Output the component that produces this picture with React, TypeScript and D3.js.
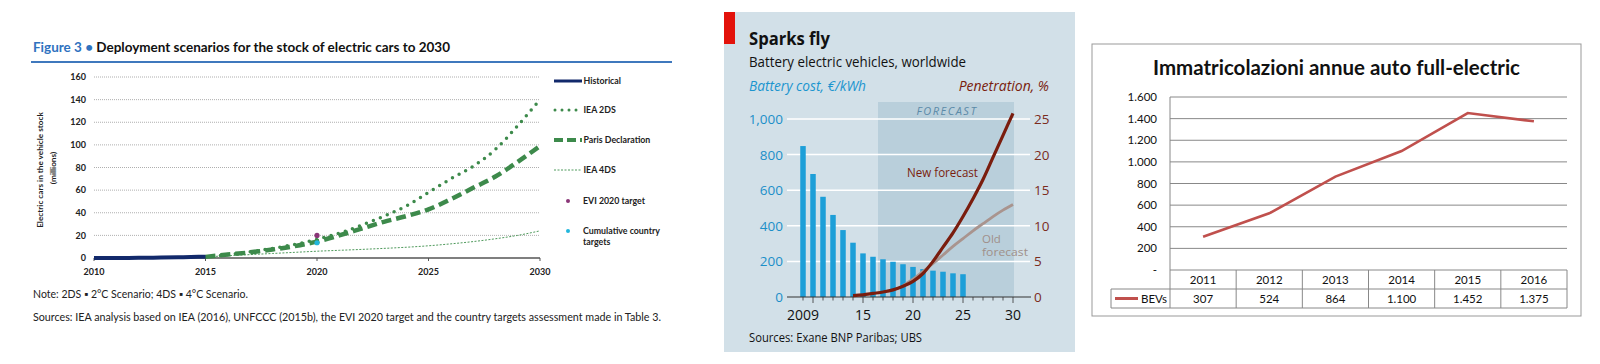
import React from 'react';
import * as d3 from 'd3';

// ---------- Figure 3 (IEA) ----------
const ieaXTicks = [2010, 2015, 2020, 2025, 2030];
const ieaYTicks = [0, 20, 40, 60, 80, 100, 120, 140, 160];
const historicalYears = [2010, 2011, 2012, 2013, 2014, 2015];
const historicalStock = [0.02, 0.05, 0.15, 0.35, 0.7, 1.2];
const scenarioYears = [2015, 2016, 2017, 2018, 2019, 2020, 2021, 2022, 2023, 2024, 2025, 2026, 2027, 2028, 2029, 2030];
const iea2ds = [1, 3, 5.5, 8.5, 12, 16.5, 22, 29, 37, 46, 58, 70, 81, 96, 117, 140];
const parisDeclaration = [1, 3, 5, 7.5, 10.5, 14.5, 20, 26, 32, 37, 43, 52, 62, 72, 85, 99];
const iea4ds = [1, 2, 3, 4, 5, 6, 6.8, 7.6, 8.5, 9.5, 10.8, 12.5, 14.5, 17, 20, 24];
const targetYear = 2020;
const evi2020Target = 20;
const countryTargets = 13.5;
const ieaLegend = ['Historical', 'IEA 2DS', 'Paris Declaration', 'IEA 4DS', 'EVI 2020 target', 'Cumulative country'];

// ---------- Sparks fly (Economist) ----------
const costYears = [2009, 2010, 2011, 2012, 2013, 2014, 2015, 2016, 2017, 2018, 2019, 2020, 2021, 2022, 2023, 2024, 2025];
const batteryCost = [848, 691, 563, 461, 376, 305, 245, 226, 212, 198, 184, 169, 157, 148, 142, 133, 128];
const newForecastYears = [2014, 2015, 2016, 2017, 2018, 2019, 2020, 2021, 2022, 2023, 2024, 2025, 2026, 2027, 2028, 2029, 2030];
const newForecast = [0.2, 0.3, 0.5, 0.7, 1.0, 1.5, 2.2, 3.3, 5.0, 7.0, 9.0, 11.3, 13.8, 16.5, 19.6, 22.7, 25.8];
const oldForecastYears = [2019, 2020, 2021, 2022, 2023, 2024, 2025, 2026, 2027, 2028, 2029, 2030];
const oldForecast = [1.6, 2.5, 3.6, 4.7, 5.9, 7.1, 8.2, 9.3, 10.3, 11.3, 12.2, 13.0];
const costTicks = [0, 200, 400, 600, 800, 1000];
const penTicks = [0, 5, 10, 15, 20, 25];
const yearTicks = [2009, 2015, 2020, 2025, 2030];
const yearTickLabels = ['2009', '15', '20', '25', '30'];
const forecastSpan = [2016.5, 2030.1];

// ---------- Immatricolazioni (Excel) ----------
const bevYears = ['2011', '2012', '2013', '2014', '2015', '2016'];
const bevValues = [307, 524, 864, 1100, 1452, 1375];
const bevTicks = [0, 200, 400, 600, 800, 1000, 1200, 1400, 1600];

const itFmt = (v: number) => (v === 0 ? '-' : d3.format(',')(v).replace(/,/g, '.'));

function IeaChart() {
  const x = d3.scaleLinear().domain([2010, 2030]).range([94, 540]);
  const y = d3.scaleLinear().domain([0, 160]).range([258, 77]);
  const line = d3.line<[number, number]>().x(d => x(d[0])).y(d => y(d[1])).curve(d3.curveMonotoneX);
  const green = '#3d8a4b';
  const navy = '#12296b';
  const font = 'Lato, sans-serif';
  const legendY = [81, 110, 140, 170, 201, 231];
  return (
    <g fontFamily={font}>
      <text x={33} y={51.7} fontSize={12.5} fontWeight="bold" textLength={417} lengthAdjust="spacingAndGlyphs">
        <tspan fill="#2f72bf">Figure 3 • </tspan>
        <tspan fill="#111">Deployment scenarios for the stock of electric cars to 2030</tspan>
      </text>
      <line x1={31} x2={672} y1={62} y2={62} stroke="#3f78bd" strokeWidth={2} />
      {ieaYTicks.map(t => (
        <g key={t}>
          {t > 0 && <line x1={94} x2={540} y1={y(t)} y2={y(t)} stroke="#9a9a9a" strokeWidth={0.8} strokeDasharray="1 1" />}
          <text x={86} y={y(t) + 3.2} textAnchor="end" fontSize={9} fontWeight="bold" fill="#222">{t}</text>
        </g>
      ))}
      <line x1={94} x2={540} y1={y(0)} y2={y(0)} stroke="#555" strokeWidth={1.3} />
      {ieaXTicks.map(t => (
        <g key={t}>
          <line x1={x(t)} x2={x(t)} y1={y(0)} y2={y(0) + 3} stroke="#555" />
          <text x={x(t)} y={275} textAnchor="middle" fontSize={9} fontWeight="bold" fill="#222">{t}</text>
        </g>
      ))}
      <text transform="translate(43,170) rotate(-90)" textAnchor="middle" fontSize={8.2} fontWeight="bold" fill="#222">Electric cars in the vehicle stock</text>
      <text transform="translate(56,168) rotate(-90)" textAnchor="middle" fontSize={8.2} fontWeight="bold" fill="#222">(millions)</text>

      <path d={line(scenarioYears.map((yr, i) => [yr, iea4ds[i]]))!} fill="none" stroke="#4f9a5c" strokeWidth={1} strokeDasharray="2 1.5" />
      <path d={line(scenarioYears.map((yr, i) => [yr, parisDeclaration[i]]))!} fill="none" stroke={green} strokeWidth={4.5} strokeDasharray="10 5" />
      <path d={line(scenarioYears.map((yr, i) => [yr, iea2ds[i]]))!} fill="none" stroke={green} strokeWidth={3.5} strokeDasharray="0 7.5" strokeLinecap="round" />
      <path d={line(historicalYears.map((yr, i) => [yr, historicalStock[i]]))!} fill="none" stroke={navy} strokeWidth={4} />
      <circle cx={x(targetYear)} cy={y(evi2020Target)} r={2.6} fill="#8a3577" />
      <circle cx={x(targetYear)} cy={y(countryTargets)} r={2.6} fill="#22b6dc" />

      {ieaLegend.map((label, i) => {
        const ly = legendY[i];
        return (
          <g key={label}>
            {i === 0 && <line x1={554} x2={582} y1={ly} y2={ly} stroke={navy} strokeWidth={3} />}
            {i === 1 && <line x1={555} x2={582} y1={ly} y2={ly} stroke={green} strokeWidth={3} strokeDasharray="0 7" strokeLinecap="round" />}
            {i === 2 && <line x1={554} x2={582} y1={ly} y2={ly} stroke={green} strokeWidth={4} strokeDasharray="9 4" />}
            {i === 3 && <line x1={554} x2={582} y1={ly} y2={ly} stroke="#4f9a5c" strokeWidth={1} strokeDasharray="2 1.5" />}
            {i === 4 && <circle cx={568} cy={ly} r={2} fill="#8a3577" />}
            {i === 5 && <circle cx={568} cy={ly} r={2} fill="#22b6dc" />}
            <text x={i < 4 ? 583.5 : 583} y={ly + 3} fontSize={8.8} fontWeight="bold" fill="#222">{label}</text>
            {i === 5 && <text x={583} y={ly + 14} fontSize={8.8} fontWeight="bold" fill="#222">targets</text>}
          </g>
        );
      })}

      <text x={33} y={298} fontSize={10.5} fill="#222" textLength={215} lengthAdjust="spacingAndGlyphs">Note: 2DS ▪ 2°C Scenario; 4DS ▪ 4°C Scenario.</text>
      <text x={33} y={321} fontSize={10.5} fill="#222" textLength={628} lengthAdjust="spacingAndGlyphs">Sources: IEA analysis based on IEA (2016), UNFCCC (2015b), the EVI 2020 target and the country targets assessment made in Table 3.</text>
    </g>
  );
}

function EconomistChart() {
  const x = d3.scaleLinear().domain([2009, 2030]).range([803, 1013]);
  const yCost = d3.scaleLinear().domain([0, 1000]).range([297, 119]);
  const yPen = d3.scaleLinear().domain([0, 25]).range([297, 119]);
  const line = d3.line<[number, number]>().x(d => x(d[0])).y(d => yPen(d[1])).curve(d3.curveMonotoneX);
  const blue = '#1d9fd8';
  const maroon = '#7a1d0e';
  const font = '"Open Sans", sans-serif';
  const allYears = d3.range(2009, 2031);
  return (
    <g fontFamily={font}>
      <rect x={724} y={12} width={351} height={340} fill="#d2e0e8" />
      <rect x={724} y={12} width={11} height={32} fill="#e3120b" />
      <rect x={x(forecastSpan[0])} y={102} width={x(forecastSpan[1]) - x(forecastSpan[0])} height={yCost(0) - 102} fill="#b9cfdb" />
      <text x={749} y={44.5} fontSize={17} fontWeight="bold" fill="#111" textLength={81} lengthAdjust="spacingAndGlyphs">Sparks fly</text>
      <text x={749} y={66.5} fontSize={14} fill="#111" textLength={217} lengthAdjust="spacingAndGlyphs">Battery electric vehicles, worldwide</text>
      <text x={749} y={90.5} fontSize={14} fontStyle="italic" fill="#1b95cf" textLength={117} lengthAdjust="spacingAndGlyphs">Battery cost, €/kWh</text>
      <text x={1049} y={90.5} fontSize={14} fontStyle="italic" fill={maroon} textAnchor="end">Penetration, %</text>
      <text x={947} y={115} fontSize={11} fontStyle="italic" fill="#5b8aa8" textAnchor="middle" letterSpacing={1.5}>FORECAST</text>

      {costTicks.map((t, i) => (
        <g key={t}>
          {t > 0 && <line x1={787} x2={1030} y1={yCost(t)} y2={yCost(t)} stroke="#fff" strokeWidth={1.5} />}
          <text x={783} y={yCost(t) + 5} textAnchor="end" fontSize={13.5} fill="#1b8fc8">{d3.format(',')(t)}</text>
          <text x={1034} y={yPen(penTicks[i]) + 5} fontSize={13.5} fill="#7b2c1d">{penTicks[i]}</text>
        </g>
      ))}

      {costYears.map((yr, i) => (
        <rect key={yr} x={x(yr) - 2.75} y={yCost(batteryCost[i])} width={5.5} height={yCost(0) - yCost(batteryCost[i])} fill={blue} />
      ))}

      <line x1={787} x2={1031} y1={yCost(0)} y2={yCost(0)} stroke="#333" strokeWidth={1} />
      {allYears.map(yr => (
        <line key={yr} x1={x(yr)} x2={x(yr)} y1={yCost(0)} y2={yCost(0) + (yr % 5 === 0 ? 6 : 3.5)} stroke="#333" strokeWidth={0.8} />
      ))}
      {yearTicks.map((t, i) => (
        <text key={t} x={x(t)} y={320} textAnchor="middle" fontSize={14} fill="#111">{yearTickLabels[i]}</text>
      ))}

      <path d={line(oldForecastYears.map((yr, i) => [yr, oldForecast[i]]))!} fill="none" stroke="#a9948e" strokeWidth={2.8} />
      <path d={line(newForecastYears.map((yr, i) => [yr, newForecast[i]]))!} fill="none" stroke={maroon} strokeWidth={3.2} />
      <text x={907} y={177} fontSize={12.5} fill={maroon} textLength={71} lengthAdjust="spacingAndGlyphs">New forecast</text>
      <text x={982} y={242.5} fontSize={11.5} fill="#a08f89">Old</text>
      <text x={982} y={256} fontSize={11.5} fill="#a08f89" textLength={46} lengthAdjust="spacingAndGlyphs">forecast</text>
      <text x={749} y={341.5} fontSize={12} fill="#111" textLength={173} lengthAdjust="spacingAndGlyphs">Sources: Exane BNP Paribas; UBS</text>
    </g>
  );
}

function ItalianChart() {
  const x = d3.scaleBand<string>().domain(bevYears).range([1170, 1567]);
  const y = d3.scaleLinear().domain([0, 1600]).range([270, 97]);
  const line = d3.line<number>().x((_, i) => x(bevYears[i])! + x.bandwidth() / 2).y(d => y(d));
  const red = '#c0504d';
  const font = 'Lato, sans-serif';
  const rowTop = y(0);
  const rowMid = 289;
  const rowBot = 308;
  return (
    <g fontFamily={font}>
      <rect x={1092} y={44} width={489} height={272} fill="#fff" stroke="#999" strokeWidth={1} />
      <text x={1153} y={75} fontSize={20} fontWeight="bold" fill="#111" textLength={367} lengthAdjust="spacingAndGlyphs">Immatricolazioni annue auto full-electric</text>
      {bevTicks.map(t => (
        <g key={t}>
          <line x1={1170} x2={1567} y1={y(t)} y2={y(t)} stroke="#888" strokeWidth={1} />
          <text x={1157} y={y(t) + 4} textAnchor="end" fontSize={11.5} fill="#111">{itFmt(t)}</text>
        </g>
      ))}
      <line x1={1170} x2={1170} y1={y(1600)} y2={rowBot} stroke="#888" />
      <line x1={1111} x2={1567} y1={rowMid} y2={rowMid} stroke="#888" />
      <line x1={1111} x2={1567} y1={rowBot} y2={rowBot} stroke="#888" />
      <line x1={1111} x2={1111} y1={rowMid} y2={rowBot} stroke="#888" />
      {bevYears.map((yr, i) => (
        <g key={yr}>
          <line x1={x(yr)! + x.bandwidth()} x2={x(yr)! + x.bandwidth()} y1={rowTop} y2={rowBot} stroke="#888" />
          <text x={x(yr)! + x.bandwidth() / 2} y={284} textAnchor="middle" fontSize={11.5} fill="#111">{yr}</text>
          <text x={x(yr)! + x.bandwidth() / 2} y={303} textAnchor="middle" fontSize={11.5} fill="#111">{itFmt(bevValues[i])}</text>
        </g>
      ))}
      <line x1={1115} x2={1138} y1={298.5} y2={298.5} stroke={red} strokeWidth={3} />
      <text x={1141} y={303} fontSize={11.5} fill="#111">BEVs</text>
      <path d={line(bevValues)!} fill="none" stroke={red} strokeWidth={2.6} />
    </g>
  );
}

export default function App() {
  return (
    <svg width={1600} height={364} style={{ position: 'absolute', left: 0, top: 0 }}>
      <rect width={1600} height={364} fill="#fff" />
      <IeaChart />
      <EconomistChart />
      <ItalianChart />
    </svg>
  );
}
